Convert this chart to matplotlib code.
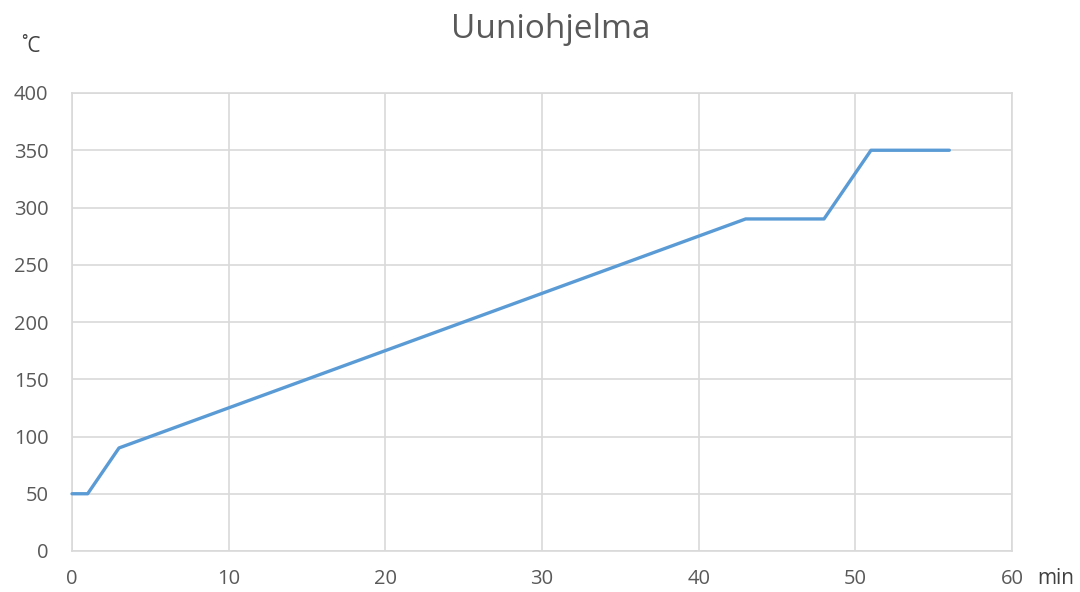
import matplotlib
matplotlib.use("Agg")
import matplotlib.pyplot as plt

plt.rcParams['font.family'] = ['Open Sans', 'DejaVu Sans']

time_min = [0, 1, 3, 43, 48, 51, 56]
temp_c = [50, 50, 90, 290, 290, 350, 350]
x_ticks = [0, 10, 20, 30, 40, 50, 60]
y_ticks = [0, 50, 100, 150, 200, 250, 300, 350, 400]

fig = plt.figure(figsize=(10.8, 5.92), dpi=100)
ax = fig.add_axes([72/1080, 1-551/592, (1012-72)/1080, (551-93)/592])

ax.plot(time_min, temp_c, color='#5B9BD5', linewidth=2.4, solid_capstyle='round',
        solid_joinstyle='round', zorder=3, clip_on=False)
ax.set_xlim(0, 60)
ax.set_ylim(0, 400)
ax.set_xticks(x_ticks)
ax.set_yticks(y_ticks)
ax.grid(True, color='#D9D9D9', linewidth=1.2)
ax.set_axisbelow(True)
for s in ax.spines.values():
    s.set_color('#D9D9D9')
    s.set_linewidth(1.2)
ax.tick_params(length=0, labelsize=14.5, colors='#595959')
ax.tick_params(axis='x', pad=13)
ax.tick_params(axis='y', pad=17)

fig.text(551/1080, 1-30/592, 'Uuniohjelma', ha='center', va='center', fontsize=24, color='#595959')
fig.text(31/1080, 1-47/592, '˚C', ha='center', va='center', fontsize=15, color='#404040')
fig.text(1056/1080, 1-578/592, 'min', ha='center', va='center', fontsize=15, color='#404040')

fig.savefig('out.png', dpi=100)
